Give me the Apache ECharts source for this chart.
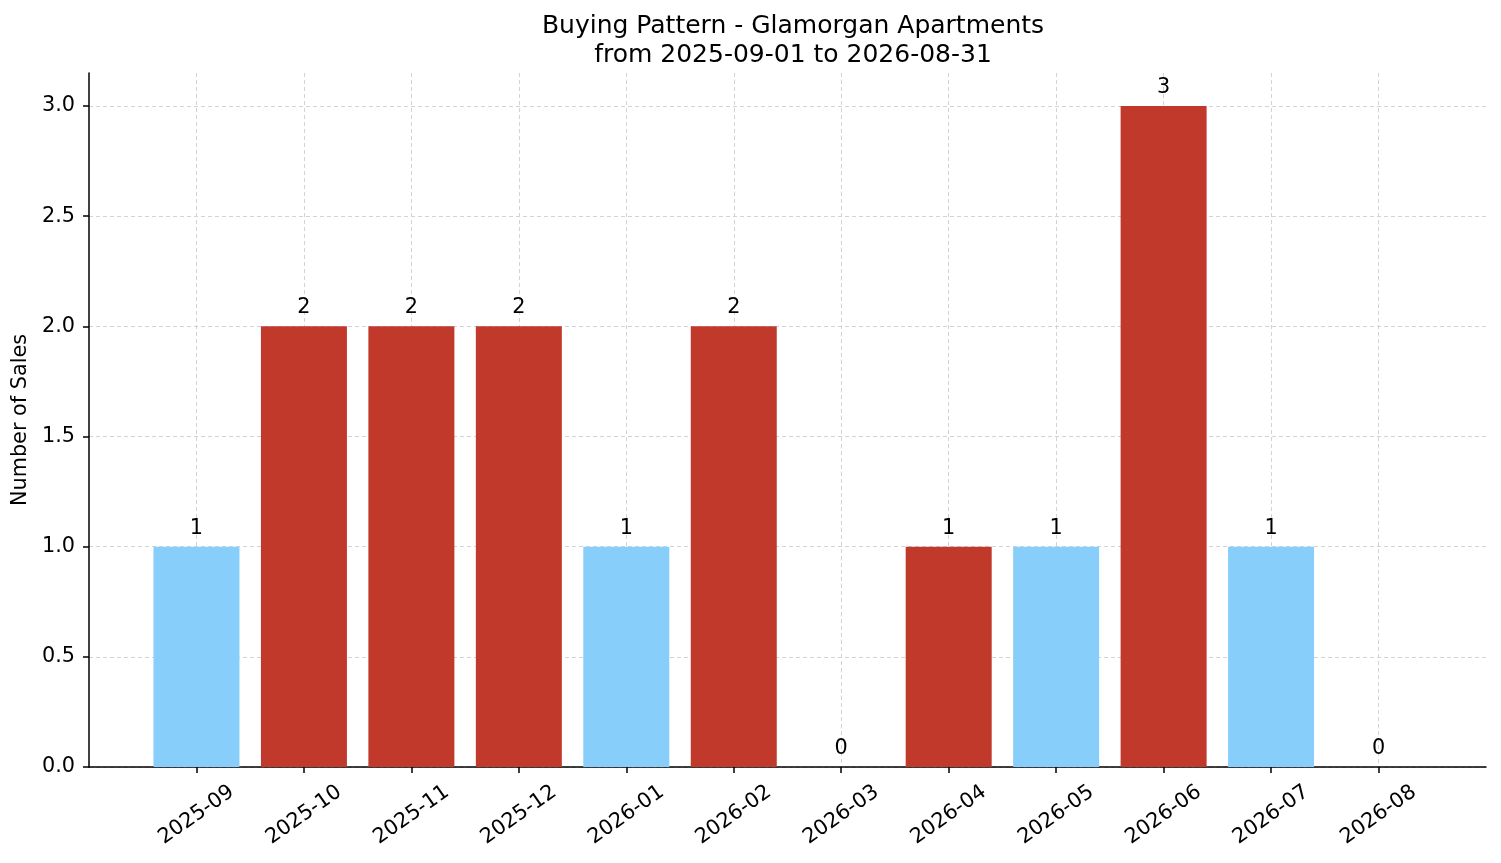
<!DOCTYPE html>
<html>
<head>
<meta charset="utf-8">
<script src="https://cdn.jsdelivr.net/npm/echarts@6/dist/echarts.min.js"></script>
<style>
html,body{margin:0;padding:0;background:#fff;}
#chart{width:1501px;height:863px;}
</style>
</head>
<body>
<div id="chart"></div>
<script>
// Data
const months = ['2025-09','2025-10','2025-11','2025-12','2026-01','2026-02','2026-03','2026-04','2026-05','2026-06','2026-07','2026-08'];
const sales = [1, 2, 2, 2, 1, 2, 0, 1, 1, 3, 1, 0];
const highlighted = [false, true, true, true, false, true, false, true, false, true, false, false];
const yTicks = [0, 0.5, 1.0, 1.5, 2.0, 2.5, 3.0];
const titleText = 'Buying Pattern - Glamorgan Apartments\nfrom 2025-09-01 to 2026-08-31';
const yAxisName = 'Number of Sales';

const RED = '#C0392B';
const BLUE = '#87CEFA';
const FONT = 'DejaVu Sans';
const FS = 20.8;

// padded category axis (one empty slot each side, like matplotlib margins)
const cats = [''].concat(months, ['']);
const seriesData = [null].concat(sales.map((v, i) => ({
  value: v,
  itemStyle: { color: highlighted[i] ? RED : BLUE }
})), [null]);
const inner = (idx) => idx > 0 && idx < cats.length - 1;

const chart = echarts.init(document.getElementById('chart'), null, { renderer: 'canvas' });
chart.setOption({
  animation: false,
  backgroundColor: '#fff',
  title: {
    text: titleText,
    left: 788,
    textAlign: 'center',
    top: 7,
    textStyle: { fontFamily: FONT, fontSize: 25, fontWeight: 'normal', color: '#000', lineHeight: 29 }
  },
  grid: { left: 89, right: 15, top: 73, bottom: 96, containLabel: false },
  xAxis: {
    type: 'category',
    data: cats,
    boundaryGap: false,
    axisLine: { show: true, lineStyle: { color: '#000', width: 1.5 } },
    axisTick: { show: true, length: 6, interval: (i) => inner(i), lineStyle: { color: '#000', width: 1.5 } },
    axisLabel: {
      interval: (i) => inner(i), rotate: 35, align: 'center', verticalAlign: 'middle',
      fontFamily: FONT, fontSize: FS, color: '#000', margin: 48
    },
    splitLine: { show: true, interval: (i) => inner(i), lineStyle: { color: '#d3d3d3', type: [4, 3], width: 1 } }
  },
  yAxis: {
    type: 'value',
    min: 0,
    max: 3.15,
    interval: 0.5,
    name: yAxisName,
    nameLocation: 'middle',
    nameRotate: 90,
    nameGap: 57,
    nameTextStyle: { fontFamily: FONT, fontSize: FS, color: '#000' },
    axisLine: { show: true, lineStyle: { color: '#000', width: 1.5 } },
    axisTick: { show: true, length: 6, lineStyle: { color: '#000', width: 1.5 } },
    axisLabel: {
      fontFamily: FONT, fontSize: FS, color: '#000', margin: 14,
      showMaxLabel: false,
      formatter: (v) => yTicks.some(t => Math.abs(t - v) < 1e-6) ? v.toFixed(1) : ''
    },
    splitLine: { show: true, showMaxLine: false, lineStyle: { color: '#d3d3d3', type: [4, 3], width: 1 } }
  },
  series: [{
    type: 'bar',
    data: seriesData,
    barWidth: 86,
    label: {
      show: true,
      position: 'top',
      distance: 8,
      fontFamily: FONT,
      fontSize: FS,
      color: '#000'
    }
  }]
});
</script>
</body>
</html>
